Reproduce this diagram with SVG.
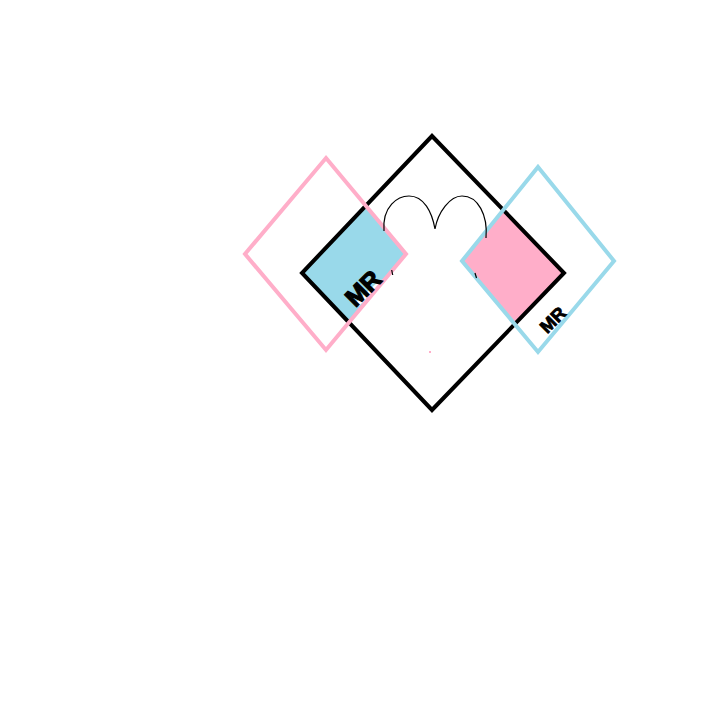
<svg xmlns="http://www.w3.org/2000/svg" width="705" height="709" viewBox="0 0 705 709">
<style>
.edge{fill:none;stroke-width:4;stroke-linejoin:miter}
.blk{stroke:#000}
.pnk{stroke:#ffaec9}
.blu{stroke:#99d9ea}
.lbl{font-family:"Liberation Sans",Arial,sans-serif;font-weight:bold;fill:#000;stroke:#000;text-anchor:middle;dominant-baseline:central}
</style>
<rect width="705" height="709" fill="#fff"/>
<g id="fills">
<polygon points="302,273 365.8,206.3 406,254 348.9,322.4" fill="#99d9ea"/>
<polygon points="462,260 503.1,209.8 564,273 514.9,322 " fill="#ffaec9"/>
<polygon points="379,281 388,277 359,306 354,304" fill="#fff"/>
</g>
<g id="black-diamond">
<polygon class="edge blk" points="432,136 564,273 432,410 302,273"/>
</g>
<g id="pink-diamond">
<polygon class="edge pnk" points="326,158 406,254 326,350 245,254"/>
</g>
<g id="blue-diamond">
<polygon class="edge blu" points="538,167 614,261 538,352 462,261"/>
</g>
<g id="connectors">
<path d="M384,231 C382,206 398,196 409,196 C424,196 432,212 435,229 C438,212 450,196 462,196 C478,196 488,215 486,238" fill="none" stroke="#000" stroke-width="1.2"/>
<line x1="391.7" y1="270" x2="392.7" y2="275" stroke="#000" stroke-width="1.2"/>
<line x1="475" y1="273" x2="476.5" y2="278" stroke="#000" stroke-width="1.2"/>
<rect x="429" y="351" width="2" height="2" fill="#ffaec9"/>
</g>
<g id="label-left">
<text class="lbl" x="363" y="288" font-size="25" stroke-width="1.2" transform="rotate(-45 363 288)">MR</text>
</g>
<g id="label-right">
<text class="lbl" x="553" y="320" font-size="18" stroke-width="0.8" transform="rotate(-45 553 320)">MR</text>
</g>
</svg>
